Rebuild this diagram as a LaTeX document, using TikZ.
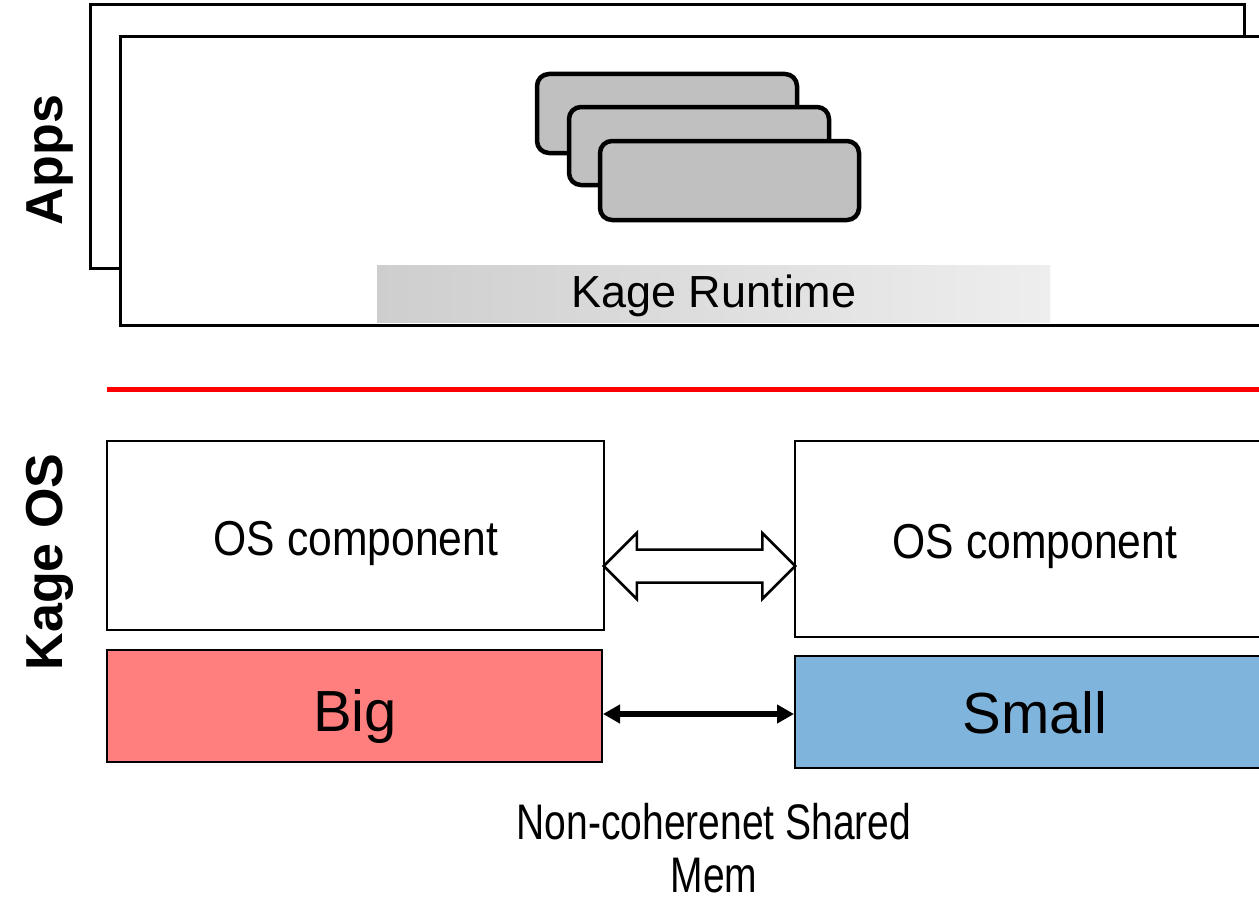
\documentclass[tikz,border=0pt]{standalone}
\usepackage{fontspec}
\setmainfont{Liberation Sans}
\newfontfamily\narrowfont{Liberation Sans}[FakeStretch=0.87]
\newfontfamily\memfont{Liberation Sans}[FakeStretch=0.78]
\usetikzlibrary{arrows.meta,fit,calc}
\definecolor{bigred}{RGB}{255,127,127}
\definecolor{smallblue}{RGB}{127,181,221}
\definecolor{stackgray}{RGB}{192,192,192}
\definecolor{bandleft}{RGB}{206,206,206}
\definecolor{bandright}{RGB}{238,238,238}
\begin{document}
\begin{tikzpicture}[x=1pt,y=-1pt,
  appframe/.style={draw=black, line width=3pt, fill=white, inner sep=0pt},
  stackbox/.style={draw=black, line width=4.5pt, fill=stackgray, rounded corners=12pt, inner sep=0pt},
  runtimeband/.style={draw=none, left color=bandleft, right color=bandright, inner sep=0pt},
  osbox/.style={draw=black, line width=2.5pt, fill=white, inner sep=0pt},
  corebox/.style={draw=black, line width=2pt, inner sep=0pt},
  sidelabel/.style={rotate=90, anchor=base, inner sep=0pt, font=\fontsize{52}{56}\selectfont\bfseries},
  narrowlabel/.style={anchor=base, inner sep=0pt, font=\fontsize{49}{54}\selectfont\narrowfont},
  corelabel/.style={anchor=base, inner sep=0pt, font=\fontsize{58}{62}\selectfont},
  chanarrow/.style={draw=black, line width=2.5pt, fill=white, line join=miter},
  memlink/.style={{Triangle[length=17pt,width=18pt]}-{Triangle[length=17pt,width=18pt]}, line width=5.5pt},
]
\useasboundingbox (0,0) rectangle (1259,899);
\begin{scope}
\clip (0,0) rectangle (1259,899);

% application windows
\node[appframe, fit={(90,5)(1244,268)}] (appback) {};
\node[appframe, fit={(120,37)(1262,325)}] (appfront) {};

% stacked runtime instances
\node[stackbox, fit={(537,74)(797,153)}] (rt1) {};
\node[stackbox, fit={(569,107)(829,185)}] (rt2) {};
\node[stackbox, fit={(600,141)(859,220)}] (rt3) {};

% runtime band
\node[runtimeband, fit={(377,265)(1050,322)}] (band) {};
\node[anchor=base, inner sep=0pt, font=\fontsize{45}{50}\selectfont] (rtlabel) at (714,307) {Kage Runtime};

% user / kernel separator
\coordinate (sepL) at (107,389);
\coordinate (sepR) at (1262,389);
\draw[red, line width=5pt] (sepL) -- (sepR);

% side labels
\node[sidelabel] (apps) at (62,160) {Apps};
\node[sidelabel] (kageos) at (62,562) {Kage OS};

% OS components
\node[osbox, fit={(107,441)(604,630)}] (osl) {};
\node[osbox, fit={(795,441)(1262,637)}] (osr) {};
\node[narrowlabel] (osltext) at (356,555) {OS component};
\node[narrowlabel] (osrtext) at (1035,558) {OS component};

% hollow double arrow between the components
\coordinate (chanmid) at (700,566);
\coordinate (cl) at ($(osl.east |- chanmid)+(-1.5,0)$);
\coordinate (cr) at ($(osr.west |- chanmid)+(1.5,0)$);
\draw[chanarrow] (cl) -- ($(cl)+(33,-33)$) -- ($(cl)+(33,-16.5)$)
  -- ($(cr)+(-33,-16.5)$) -- ($(cr)+(-33,-33)$) -- (cr)
  -- ($(cr)+(-33,33)$) -- ($(cr)+(-33,16.5)$)
  -- ($(cl)+(33,16.5)$) -- ($(cl)+(33,33)$) -- cycle;

% cores
\node[corebox, fill=bigred, fit={(107,650)(602,762)}] (big) {};
\node[corebox, fill=smallblue, fit={(795,656)(1262,768)}] (small) {};
\node[corelabel] (bigtext) at (355,731) {Big};
\node[corelabel] (smalltext) at (1035,733) {Small};

% shared memory link
\coordinate (memmid) at (700,714);
\draw[memlink] (big.east |- memmid) -- (small.west |- memmid);

\node[anchor=north, inner sep=0pt, align=center, font=\fontsize{50}{53}\selectfont\memfont] (memlabel) at (714,803) {Non-coherenet Shared\\Mem};
\end{scope}
\end{tikzpicture}
\end{document}
